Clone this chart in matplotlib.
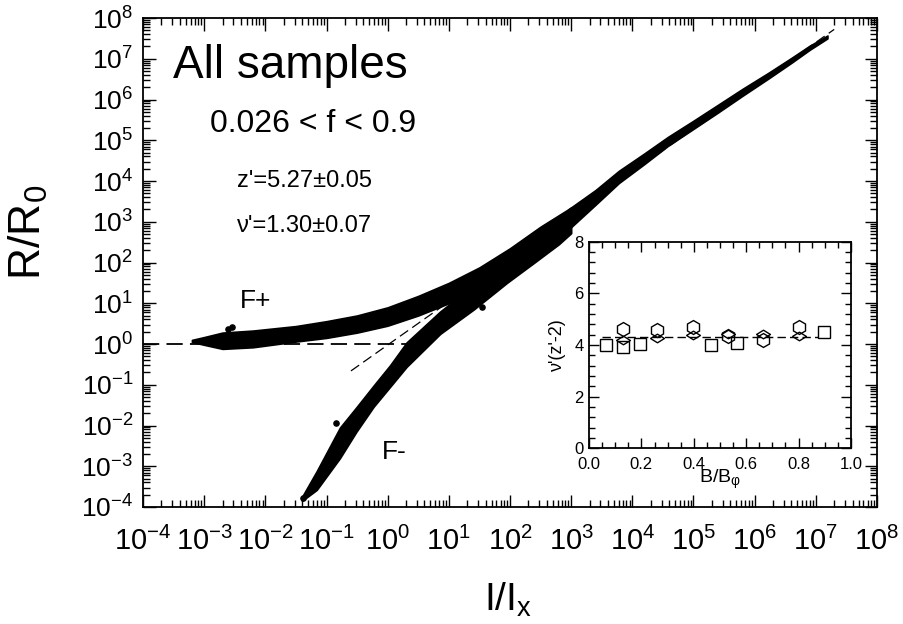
import numpy as np
import matplotlib
matplotlib.use('Agg')
from matplotlib import pyplot as plt
from matplotlib.ticker import LogLocator, MultipleLocator, NullFormatter

plt.rcParams['font.family'] = ['Liberation Sans', 'DejaVu Sans']
plt.rcParams['mathtext.fontset'] = 'custom'
plt.rcParams['mathtext.rm'] = 'Liberation Sans'
plt.rcParams['mathtext.it'] = 'Liberation Sans:italic'
plt.rcParams['mathtext.default'] = 'regular'
plt.rcParams['axes.unicode_minus'] = False

# point clouds as log10 values
# F+ branch: log10(I/Ix) with lower / upper edge of the cloud in log10(R/R0)
fp_logx = [-3.20, -3.00, -2.70, -2.20, -1.50, -1.00, -0.50, 0.00, 0.50, 1.00, 1.50, 2.00, 2.50, 3.00]
fp_lo = [0.05, -0.02, -0.12, -0.08, 0.06, 0.15, 0.28, 0.45, 0.70, 1.00, 1.38, 1.85, 2.40, 2.95]
fp_hi = [0.10, 0.17, 0.28, 0.33, 0.44, 0.56, 0.70, 0.90, 1.18, 1.50, 1.88, 2.35, 2.88, 3.35]

# F- branch
fm_logx = [-1.40, -1.16, -0.78, -0.51, -0.23, 0.04, 0.31, 0.86, 1.41, 1.95, 2.40, 2.80, 3.00]
fm_lo = [-3.85, -3.58, -2.80, -2.15, -1.54, -1.05, -0.56, 0.25, 0.85, 1.50, 2.00, 2.45, 2.72]
fm_hi = [-3.75, -3.12, -2.05, -1.55, -1.02, -0.52, 0.04, 0.80, 1.45, 2.05, 2.50, 2.90, 3.10]

# both branches together at high current
mg_logx = [2.95, 3.40, 3.78, 4.20, 4.58, 5.00, 5.39, 5.80, 6.23, 6.60, 6.90, 7.19]
mg_lo = [2.80, 3.42, 3.95, 4.42, 4.86, 5.28, 5.67, 6.09, 6.52, 6.90, 7.22, 7.50]
mg_hi = [3.30, 3.78, 4.25, 4.68, 5.08, 5.48, 5.86, 6.26, 6.66, 7.02, 7.32, 7.57]

# a few stray points outside the clouds
stray_logx = [-2.61, -2.55, -0.85, 1.54, -1.38]
stray_logy = [0.38, 0.42, -1.95, 0.92, -3.79]

# dashed guides
ohmic_logx = [-4.0, 0.30]
ohmic_logy = [0.0, 0.0]
fit_logx = [-0.60, 7.30]
fit_logy = [-0.66, 7.72]

# inset: nu'(z'-2) vs B/B_phi
sq_b = [0.064, 0.128, 0.195, 0.464, 0.566, 0.897]
sq_v = [4.00, 3.94, 4.03, 4.00, 4.09, 4.52]
hex_b = [0.128, 0.261, 0.396, 0.532, 0.665, 0.803]
hex_v = [4.62, 4.58, 4.69, 4.33, 4.20, 4.69]
dia_b = [0.128, 0.261, 0.396, 0.532, 0.665, 0.803]
dia_v = [4.20, 4.26, 4.39, 4.43, 4.43, 4.35]
inset_fit_b = [0.05, 0.90]
inset_fit_v = [4.30, 4.30]


def p10(a):
    return 10.0 ** np.asarray(a)


fig = plt.figure(figsize=(9.04, 6.24), dpi=100)
W, H = 904.0, 624.0

ax = fig.add_axes([143 / W, 1 - 507 / H, 734 / W, 489 / H])
ax.set_xscale('log')
ax.set_yscale('log')

ax.fill_between(p10(fp_logx), p10(fp_lo), p10(fp_hi), color='k', lw=1.2, zorder=3)
ax.fill_between(p10(fm_logx), p10(fm_lo), p10(fm_hi), color='k', lw=1.2, zorder=3)
ax.fill_between(p10(mg_logx), p10(mg_lo), p10(mg_hi), color='k', lw=1.2, zorder=3)
ax.scatter(p10(stray_logx), p10(stray_logy), s=14, color='k', zorder=3)

ax.plot(p10(ohmic_logx), p10(ohmic_logy), color='k', lw=1.3, dashes=(9, 4), zorder=2)
ax.plot(p10(fit_logx), p10(fit_logy), color='k', lw=0.9, dashes=(8, 4), zorder=4)

ax.set_xlim(1e-4, 1e8)
ax.set_ylim(1e-4, 1e8)
for axis in (ax.xaxis, ax.yaxis):
    axis.set_major_locator(LogLocator(base=10, numticks=20))
    axis.set_minor_locator(LogLocator(base=10, subs=np.arange(2, 10), numticks=200))
    axis.set_minor_formatter(NullFormatter())
ax.tick_params(which='both', direction='in', top=True, right=True, width=1.0)
ax.tick_params(which='major', length=9)
ax.tick_params(which='minor', length=5)
ax.tick_params(axis='x', labelsize=21, pad=14)
ax.tick_params(axis='y', labelsize=19, pad=7)
for s in ax.spines.values():
    s.set_linewidth(1.3)

fig.text(28 / W, 1 - 232 / H, 'R/R$_0$', rotation=90, fontsize=32, ha='center', va='center')
fig.text(508 / W, 1 - 600 / H, 'I/I$_x$', fontsize=28, ha='center', va='center')

fig.text(173 / W, 1 - 78 / H, 'All samples', fontsize=33, va='baseline')
fig.text(210 / W, 1 - 132 / H, '0.026 < f < 0.9', fontsize=23, va='baseline')
fig.text(237 / W, 1 - 187 / H, "z'=5.27\u00b10.05", fontsize=17, va='baseline')
fig.text(237 / W, 1 - 232 / H, "\u03bd'=1.30\u00b10.07", fontsize=17, va='baseline')
fig.text(240 / W, 1 - 308 / H, 'F+', fontsize=19, va='baseline')
fig.text(382 / W, 1 - 459 / H, 'F-', fontsize=19, va='baseline')

# inset
axi = fig.add_axes([589 / W, 1 - 448.3 / H, 262 / W, 206.6 / H])
axi.set_facecolor('white')
axi.plot(inset_fit_b, inset_fit_v, color='k', lw=1.0, dashes=(6, 3))
axi.plot(sq_b, sq_v, ls='none', marker='s', ms=8, mfc='white', mec='k', mew=1.0)
axi.plot(hex_b, hex_v, ls='none', marker='h', ms=10, mfc='none', mec='k', mew=1.0)
diamond = [(-1, 0), (0, 0.62), (1, 0), (0, -0.62), (-1, 0)]
axi.plot(dia_b, dia_v, ls='none', marker=diamond, ms=10, mfc='none', mec='k', mew=1.0)
axi.set_xlim(0, 1.0)
axi.set_ylim(0, 8)
axi.xaxis.set_major_locator(MultipleLocator(0.2))
axi.xaxis.set_minor_locator(MultipleLocator(0.05))
axi.yaxis.set_major_locator(MultipleLocator(2))
axi.yaxis.set_minor_locator(MultipleLocator(0.4))
axi.xaxis.set_major_formatter(plt.FuncFormatter(lambda v, p: f'{v:.1f}'))
axi.tick_params(which='both', direction='in', top=True, right=True, width=1.0, labelsize=12)
axi.tick_params(axis='x', pad=6)
axi.tick_params(axis='y', pad=4)
axi.tick_params(which='major', length=7)
axi.tick_params(which='minor', length=4)
for s in axi.spines.values():
    s.set_linewidth(1.3)
axi.set_xlabel('B/B$_\u03c6$', fontsize=14, labelpad=-3)
axi.set_ylabel("\u03bd'(z'-2)", fontsize=13, labelpad=6)

fig.savefig('out.png', dpi=100)
